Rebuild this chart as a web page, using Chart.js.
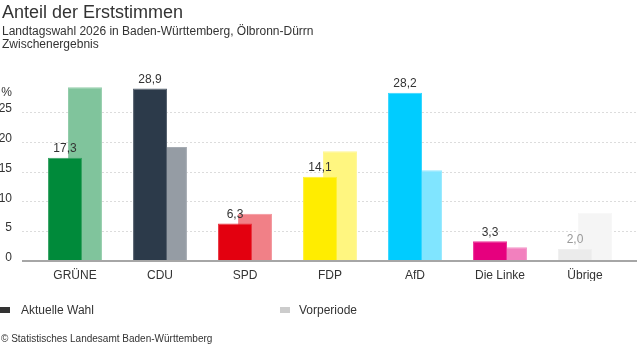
<!DOCTYPE html>
<html>
<head>
<meta charset="utf-8">
<script src="https://cdn.jsdelivr.net/npm/chart.js@4/dist/chart.umd.min.js"></script>
<style>
    body { margin: 0; background: #fff; font-family: "Liberation Sans", Arial, sans-serif; color: #333; }
    #wrap { position: relative; width: 637px; height: 352px; overflow: hidden; }
    #wrap canvas { position: absolute; left: 0; top: 0; }
    .txt { position: absolute; white-space: nowrap; }
    #title { left: 2px; top: 2px; font-size: 18px; line-height: 20px; }
    #sub { left: 2px; top: 25px; font-size: 12px; line-height: 13px; }
    .leg { top: 303px; font-size: 12px; line-height: 14px; }
    .box { position: absolute; top: 307px; width: 10px; height: 6px; }
    #source { left: 1px; top: 333px; font-size: 10px; line-height: 12px; }
</style>
</head>
<body>
<div id="wrap">
    <canvas id="ergebnisChart" width="637" height="352"></canvas>
    <div class="txt" id="title">Anteil der Erststimmen</div>
    <div class="txt" id="sub">Landtagswahl 2026 in Baden-Württemberg, Ölbronn-Dürrn<br>Zwischenergebnis</div>
    <div class="box" style="left:0px;background:#333;"></div>
    <div class="txt leg" style="left:21px;">Aktuelle Wahl</div>
    <div class="box" style="left:280px;background:#ccc;"></div>
    <div class="txt leg" style="left:299px;">Vorperiode</div>
    <div class="txt" id="source">© Statistisches Landesamt Baden-Württemberg</div>
</div>
<script>
var parteien = ['GRÜNE', 'CDU', 'SPD', 'FDP', 'AfD', 'Die Linke', 'Übrige'];
var aktuell = [17.3, 28.9, 6.3, 14.1, 28.2, 3.3, 2.0];
var vorperiode = [29.1, 19.1, 7.9, 18.4, 15.2, 2.3, 8.1];
var yTicks = [0, 5, 10, 15, 20, 25];

var farbenAktuell = ['#008a3a', '#2c3a4a', '#e3000f', '#ffed00', '#00ccff', '#e6007e', '#ebebeb'];
var farbenVor = ['#80c49c', '#959ca4', '#f18087', '#fff680', '#80e5ff', '#f280be', '#f5f5f5'];

// mix a hex colour with white
function aufhellen(hex, anteil) {
    var r = parseInt(hex.substr(1, 2), 16);
    var g = parseInt(hex.substr(3, 2), 16);
    var b = parseInt(hex.substr(5, 2), 16);
    r = Math.round(r + (255 - r) * anteil);
    g = Math.round(g + (255 - g) * anteil);
    b = Math.round(b + (255 - b) * anteil);
    return 'rgb(' + r + ',' + g + ',' + b + ')';
}

function formatZahl(v) {
    return v.toFixed(1).replace('.', ',');
}

// dotted grid lines, axis line and the % sign
var gitterPlugin = {
    id: 'gitter',
    beforeDatasetsDraw: function (chart) {
        var ctx = chart.ctx;
        var y = chart.scales.y;
        ctx.save();
        ctx.strokeStyle = '#dcdcdc';
        ctx.lineWidth = 1;
        ctx.setLineDash([2, 2]);
        for (var i = 0; i < yTicks.length; i++) {
            if (yTicks[i] === 0) continue;
            var py = Math.round(y.getPixelForValue(yTicks[i])) + 0.5;
            ctx.beginPath();
            ctx.moveTo(22, py);
            ctx.lineTo(chart.width, py);
            ctx.stroke();
        }
        ctx.restore();

        ctx.save();
        ctx.fillStyle = '#333';
        ctx.font = '12px "Liberation Sans", Arial, sans-serif';
        ctx.textAlign = 'right';
        ctx.textBaseline = 'middle';
        ctx.fillText('%', 12, chart.chartArea.top + 11);
        ctx.restore();
    },
    afterDatasetsDraw: function (chart) {
        var ctx = chart.ctx;
        var y = chart.scales.y;
        var py = y.getPixelForValue(0);
        ctx.save();
        ctx.strokeStyle = '#a6a6a6';
        ctx.lineWidth = 2;
        ctx.beginPath();
        ctx.moveTo(22, py);
        ctx.lineTo(chart.width, py);
        ctx.stroke();
        ctx.restore();

        // value labels for the current election
        var meta = chart.getDatasetMeta(0);
        ctx.save();
        ctx.font = '12px "Liberation Sans", Arial, sans-serif';
        ctx.textAlign = 'center';
        ctx.textBaseline = 'middle';
        for (var k = 0; k < meta.data.length; k++) {
            var bar = meta.data[k];
            ctx.fillStyle = parteien[k] === 'Übrige' ? '#999' : '#333';
            ctx.fillText(formatZahl(aktuell[k]), bar.x, bar.y - 9);
        }
        ctx.restore();
    }
};

var ctx = document.getElementById('ergebnisChart');
var myChart = new Chart(ctx, {
    type: 'bar',
    data: {
        labels: parteien,
        datasets: [{
            label: 'Aktuelle Wahl',
            data: aktuell,
            backgroundColor: farbenAktuell,
            borderColor: farbenAktuell.map(function (c) { return aufhellen(c, 0.2); }),
            borderWidth: 1,
            borderSkipped: 'bottom'
        }, {
            label: 'Vorperiode',
            data: vorperiode,
            backgroundColor: farbenVor,
            borderColor: farbenVor.map(function (c) { return aufhellen(c, 0.15); }),
            borderWidth: 1,
            borderSkipped: 'bottom'
        }]
    },
    options: {
        responsive: false,
        animation: false,
        categoryPercentage: 0.47,
        barPercentage: 1.7,
        layout: {
            padding: { top: 82, bottom: 71, left: 0, right: 9.5 }
        },
        plugins: {
            legend: { display: false },
            tooltip: { enabled: false }
        },
        scales: {
            x: {
                grid: { display: false, drawTicks: false },
                border: { display: false },
                ticks: {
                    color: '#333',
                    font: { family: '"Liberation Sans", Arial, sans-serif', size: 12 },
                    padding: 7,
                    maxRotation: 0,
                    autoSkip: false
                },
                afterFit: function (scale) { scale.height = 20; }
            },
            y: {
                min: 0,
                max: 30,
                grid: { display: false, drawTicks: false },
                border: { display: false },
                ticks: {
                    stepSize: 5,
                    color: '#333',
                    padding: 20.5,
                    labelOffset: -3,
                    font: { family: '"Liberation Sans", Arial, sans-serif', size: 12 },
                    callback: function (v) { return yTicks.indexOf(v) >= 0 ? v : ''; }
                },
                afterFit: function (scale) { scale.width = 32.5; }
            }
        }
    },
    plugins: [gitterPlugin]
});
</script>
</body>
</html>
